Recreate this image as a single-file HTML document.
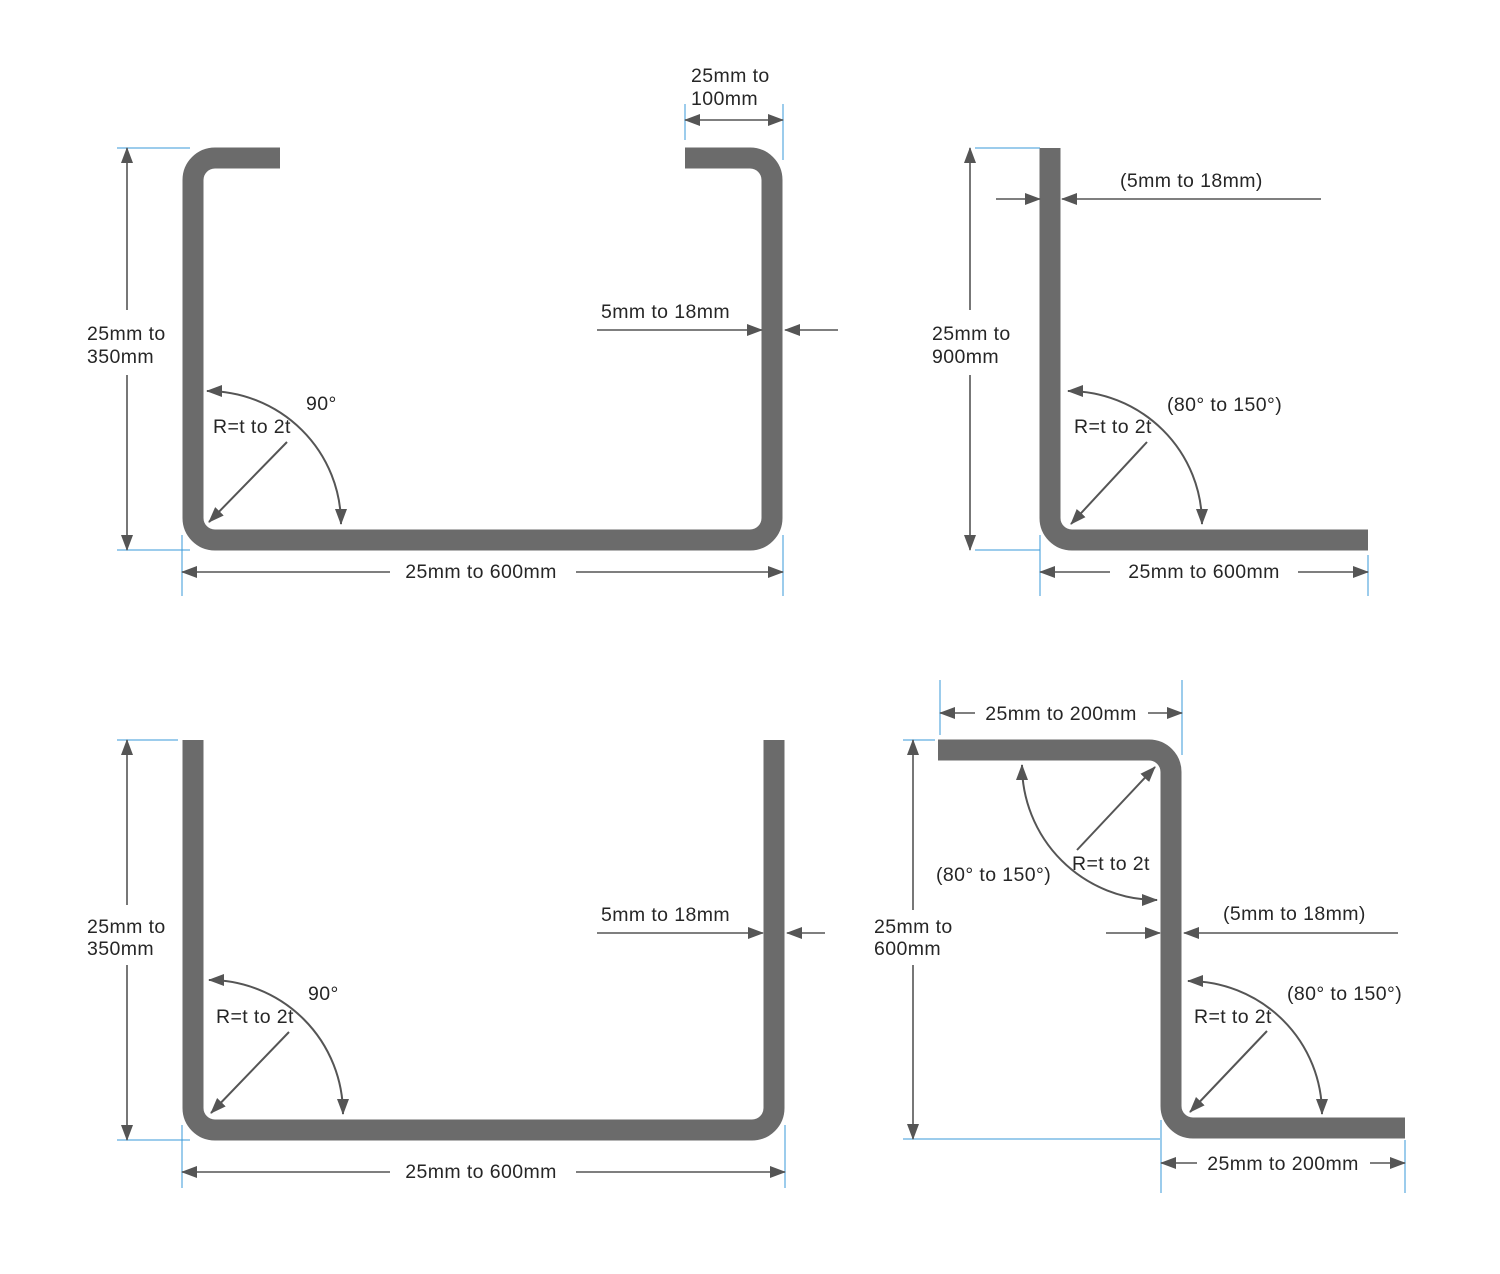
<!DOCTYPE html>
<html><head><meta charset="utf-8"><style>
html,body{margin:0;padding:0;background:#fff;}
svg{display:block;}
text{font-family:"Liberation Sans",sans-serif;font-size:19.5px;fill:#262626;letter-spacing:0.4px;}
</style></head><body>
<svg width="1500" height="1274" viewBox="0 0 1500 1274" xmlns="http://www.w3.org/2000/svg">
<defs>
<marker id="a" viewBox="0 0 16 12" refX="15" refY="6" markerWidth="16" markerHeight="12" markerUnits="userSpaceOnUse" orient="auto-start-reverse">
<path d="M0,0 L16,6 L0,12 Z" fill="#555"/></marker>
</defs>
<g fill="none" stroke="#6b6b6b" stroke-width="21">
<path d="M280,158 H215 A22,22 0 0 0 193,180 V518 A22,22 0 0 0 215,540 H750 A22,22 0 0 0 772,518 V180 A22,22 0 0 0 750,158 H685"/>
<path d="M1050,148 V518 A22,22 0 0 0 1072,540 H1368"/>
<path d="M193,740 V1108 A22,22 0 0 0 215,1130 H752 A22,22 0 0 0 774,1108 V740"/>
<path d="M938,750 H1149 A22,22 0 0 1 1171,772 V1106 A22,22 0 0 0 1193,1128 H1405"/>
</g>
<g stroke="#3a9ad9" stroke-width="1">
<line x1="117" y1="148" x2="190" y2="148"/><line x1="117" y1="550" x2="190" y2="550"/>
<line x1="182" y1="535" x2="182" y2="596"/><line x1="783" y1="535" x2="783" y2="596"/>
<line x1="685" y1="104" x2="685" y2="140"/><line x1="783" y1="104" x2="783" y2="160"/>
<line x1="975" y1="148" x2="1040" y2="148"/><line x1="975" y1="550" x2="1040" y2="550"/>
<line x1="1040" y1="535" x2="1040" y2="596"/><line x1="1368" y1="555" x2="1368" y2="596"/>
<line x1="117" y1="740" x2="178" y2="740"/><line x1="117" y1="1140" x2="190" y2="1140"/>
<line x1="182" y1="1125" x2="182" y2="1188"/><line x1="785" y1="1125" x2="785" y2="1188"/>
<line x1="940" y1="680" x2="940" y2="735"/><line x1="1182" y1="680" x2="1182" y2="755"/>
<line x1="903" y1="740" x2="935" y2="740"/><line x1="903" y1="1139" x2="1160" y2="1139"/>
<line x1="1161" y1="1120" x2="1161" y2="1193"/><line x1="1405" y1="1140" x2="1405" y2="1193"/>
</g>
<g stroke="#555" stroke-width="1.6" fill="none">
<line x1="127" y1="310" x2="127" y2="148" marker-end="url(#a)"/><line x1="127" y1="375" x2="127" y2="550" marker-end="url(#a)"/>
<line x1="390" y1="572" x2="182" y2="572" marker-end="url(#a)"/><line x1="576" y1="572" x2="783" y2="572" marker-end="url(#a)"/>
<line x1="685" y1="120" x2="783" y2="120" marker-start="url(#a)" marker-end="url(#a)"/>
<line x1="597" y1="330" x2="762" y2="330" marker-end="url(#a)"/><line x1="838" y1="330" x2="785" y2="330" marker-end="url(#a)"/>
<path d="M207,391 A134,133 0 0 1 341,524" stroke-width="2" marker-start="url(#a)" marker-end="url(#a)"/>
<line x1="287" y1="442" x2="209" y2="522" stroke-width="2" marker-end="url(#a)"/>

<line x1="970" y1="310" x2="970" y2="148" marker-end="url(#a)"/><line x1="970" y1="375" x2="970" y2="550" marker-end="url(#a)"/>
<line x1="996" y1="199" x2="1040" y2="199" marker-end="url(#a)"/><line x1="1321" y1="199" x2="1062" y2="199" marker-end="url(#a)"/>
<line x1="1110" y1="572" x2="1040" y2="572" marker-end="url(#a)"/><line x1="1298" y1="572" x2="1368" y2="572" marker-end="url(#a)"/>
<path d="M1068,391 A134,133 0 0 1 1202,524" stroke-width="2" marker-start="url(#a)" marker-end="url(#a)"/>
<line x1="1147" y1="442" x2="1071" y2="524" stroke-width="2" marker-end="url(#a)"/>

<line x1="127" y1="905" x2="127" y2="740" marker-end="url(#a)"/><line x1="127" y1="965" x2="127" y2="1140" marker-end="url(#a)"/>
<line x1="390" y1="1172" x2="182" y2="1172" marker-end="url(#a)"/><line x1="576" y1="1172" x2="785" y2="1172" marker-end="url(#a)"/>
<line x1="597" y1="933" x2="763" y2="933" marker-end="url(#a)"/><line x1="825" y1="933" x2="787" y2="933" marker-end="url(#a)"/>
<path d="M209,980 A134,134 0 0 1 343,1114" stroke-width="2" marker-start="url(#a)" marker-end="url(#a)"/>
<line x1="289" y1="1032" x2="211" y2="1113" stroke-width="2" marker-end="url(#a)"/>

<line x1="975" y1="713" x2="940" y2="713" marker-end="url(#a)"/><line x1="1148" y1="713" x2="1182" y2="713" marker-end="url(#a)"/>
<line x1="913" y1="910" x2="913" y2="740" marker-end="url(#a)"/><line x1="913" y1="965" x2="913" y2="1139" marker-end="url(#a)"/>
<line x1="1106" y1="933" x2="1160" y2="933" marker-end="url(#a)"/><line x1="1398" y1="933" x2="1184" y2="933" marker-end="url(#a)"/>
<line x1="1197" y1="1163" x2="1161" y2="1163" marker-end="url(#a)"/><line x1="1370" y1="1163" x2="1405" y2="1163" marker-end="url(#a)"/>
<path d="M1022,765 A135,135 0 0 0 1157,900" stroke-width="2" marker-start="url(#a)" marker-end="url(#a)"/>
<line x1="1077" y1="850" x2="1155" y2="767" stroke-width="2" marker-end="url(#a)"/>
<path d="M1188,981 A134,133 0 0 1 1322,1114" stroke-width="2" marker-start="url(#a)" marker-end="url(#a)"/>
<line x1="1267" y1="1031" x2="1190" y2="1112" stroke-width="2" marker-end="url(#a)"/>
</g>
<g>
<text x="87" y="340">25mm to</text><text x="87" y="363">350mm</text>
<text x="481" y="578" text-anchor="middle">25mm to 600mm</text>
<text x="691" y="82">25mm to</text><text x="691" y="105">100mm</text>
<text x="601" y="318">5mm to 18mm</text>
<text x="306" y="410">90°</text><text x="213" y="433">R=t to 2t</text>

<text x="932" y="340">25mm to</text><text x="932" y="363">900mm</text>
<text x="1120" y="187">(5mm to 18mm)</text>
<text x="1204" y="578" text-anchor="middle">25mm to 600mm</text>
<text x="1167" y="411">(80° to 150°)</text><text x="1074" y="433">R=t to 2t</text>

<text x="87" y="933">25mm to</text><text x="87" y="955">350mm</text>
<text x="481" y="1178" text-anchor="middle">25mm to 600mm</text>
<text x="601" y="921">5mm to 18mm</text>
<text x="308" y="1000">90°</text><text x="216" y="1023">R=t to 2t</text>

<text x="1061" y="720" text-anchor="middle">25mm to 200mm</text>
<text x="874" y="933">25mm to</text><text x="874" y="955">600mm</text>
<text x="1223" y="920">(5mm to 18mm)</text>
<text x="1283" y="1170" text-anchor="middle">25mm to 200mm</text>
<text x="936" y="881">(80° to 150°)</text><text x="1072" y="870">R=t to 2t</text>
<text x="1287" y="1000">(80° to 150°)</text><text x="1194" y="1023">R=t to 2t</text>
</g>
</svg>
</body></html>
